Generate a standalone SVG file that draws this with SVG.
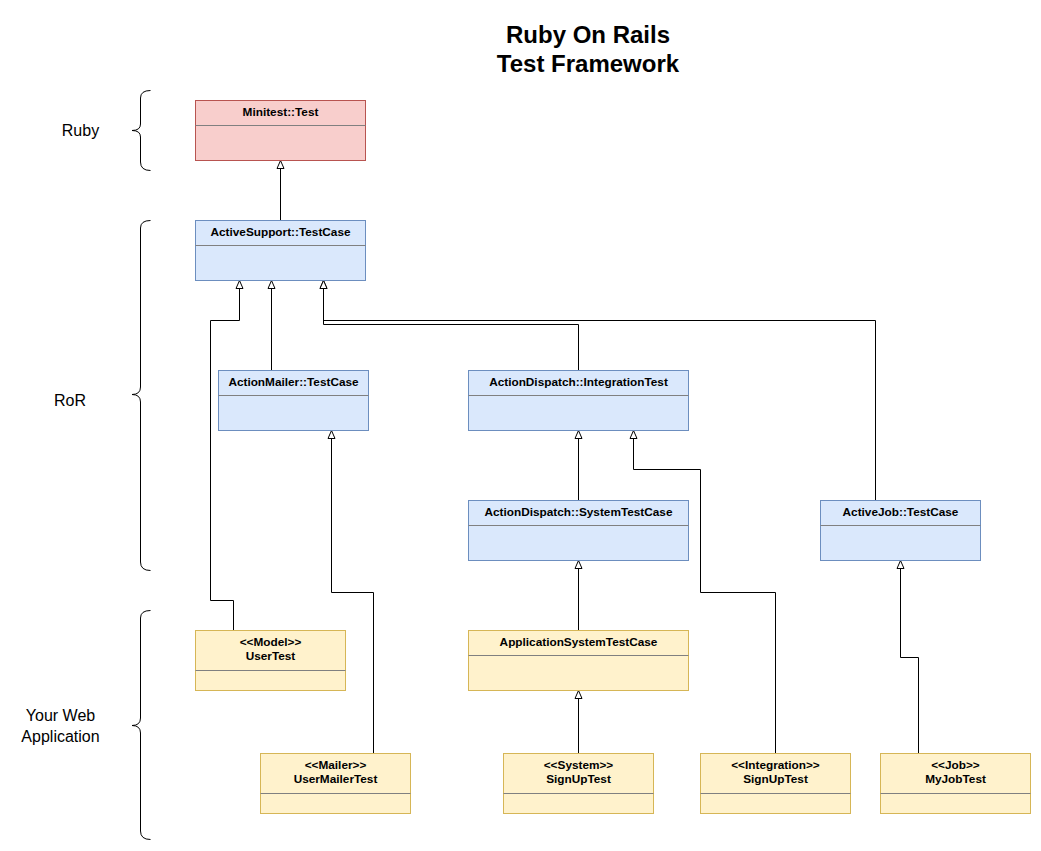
<svg xmlns="http://www.w3.org/2000/svg" width="1041" height="851" viewBox="0 0 1041 851">
<style>
text{font-family:"Liberation Sans",Arial,Helvetica,sans-serif;fill:#000}
.t{font-size:24px;font-weight:bold;text-anchor:middle}
.lbl{font-size:16px;text-anchor:middle}
.n{font-size:11.8px;font-weight:bold;text-anchor:middle}
.pink{fill:#f8cecc;stroke:#b85450;stroke-width:1}
.blue{fill:#dae8fc;stroke:#6c8ebf;stroke-width:1}
.yel{fill:#fff2cc;stroke:#d6b656;stroke-width:1}
.div{stroke:#808080;stroke-width:1;fill:none}
.c{fill:none;stroke:#000;stroke-width:1;marker-end:url(#tri)}
.br{fill:none;stroke:#000;stroke-width:1}
</style>
<defs>
<marker id="tri" markerUnits="userSpaceOnUse" markerWidth="12" markerHeight="12" refX="10" refY="6" orient="auto">
<path d="M2,2.5 L10,6 L2,9.5 Z" fill="#fff" stroke="#000" stroke-width="1"/>
</marker>
</defs>
<rect width="1041" height="851" fill="#fff"/>
<g id="title">
<text class="t" x="588" y="43">Ruby On Rails</text>
<text class="t" x="588" y="72">Test Framework</text>
</g>
<g id="layer-ruby">
<path class="br" d="M150.5,90.5 Q140.5,90.5 140.5,98 L140.5,124 Q140.5,130.5 132,130.5 Q140.5,130.5 140.5,137 L140.5,162 Q140.5,170.5 150.5,170.5"/>
<text class="lbl" x="80.5" y="136">Ruby</text>
</g>
<g id="layer-ror">
<path class="br" d="M150.5,220.5 Q140.5,220.5 140.5,228 L140.5,387 Q140.5,394.5 132,394.5 Q140.5,394.5 140.5,402 L140.5,562 Q140.5,570.5 150.5,570.5"/>
<text class="lbl" x="70" y="406">RoR</text>
</g>
<g id="layer-app">
<path class="br" d="M150.5,610.5 Q140.5,610.5 140.5,618 L140.5,718 Q140.5,725.5 132,725.5 Q140.5,725.5 140.5,733 L140.5,831 Q140.5,839.5 150.5,839.5"/>
<text class="lbl" x="60.5" y="721">Your Web</text>
<text class="lbl" x="60.5" y="742">Application</text>
</g>
<g id="connectors">
<path class="c" d="M280.5,220.5 L280.5,160.5"/>
<path class="c" d="M233.5,630.5 L233.5,600.5 L210.5,600.5 L210.5,320.5 L239.5,320.5 L239.5,280.5"/>
<path class="c" d="M271.5,370.5 L271.5,280.5"/>
<path class="c" d="M578.5,370.5 L578.5,324.5 L323.5,324.5 L323.5,280.5"/>
<path class="c" d="M875.5,500.5 L875.5,320.5 L323.5,320.5 L323.5,280.5"/>
<path class="c" d="M373.5,753.5 L373.5,592.5 L331.5,592.5 L331.5,430.5"/>
<path class="c" d="M578.5,500.5 L578.5,430.5"/>
<path class="c" d="M775.5,753.5 L775.5,592.5 L700.5,592.5 L700.5,469.5 L633.5,469.5 L633.5,430.5"/>
<path class="c" d="M578.5,630.5 L578.5,560.5"/>
<path class="c" d="M578.5,753.5 L578.5,690.5"/>
<path class="c" d="M918.5,753.5 L918.5,657.5 L900.5,657.5 L900.5,560.5"/>
</g>
<g id="minitest-test">
<rect class="pink" x="195.5" y="100.5" width="170" height="60"/>
<path class="div" d="M195.5,125.5 H365.5"/>
<text class="n" x="280.5" y="116">Minitest::Test</text>
</g>
<g id="activesupport-testcase">
<rect class="blue" x="195.5" y="220.5" width="170" height="60"/>
<path class="div" d="M195.5,245.5 H365.5"/>
<text class="n" x="280.5" y="236">ActiveSupport::TestCase</text>
</g>
<g id="actionmailer-testcase">
<rect class="blue" x="218.5" y="370.5" width="150" height="60"/>
<path class="div" d="M218.5,395.5 H368.5"/>
<text class="n" x="293.5" y="386">ActionMailer::TestCase</text>
</g>
<g id="actiondispatch-integrationtest">
<rect class="blue" x="468.5" y="370.5" width="220" height="60"/>
<path class="div" d="M468.5,395.5 H688.5"/>
<text class="n" x="578.5" y="386">ActionDispatch::IntegrationTest</text>
</g>
<g id="actiondispatch-systemtestcase">
<rect class="blue" x="468.5" y="500.5" width="220" height="60"/>
<path class="div" d="M468.5,525.5 H688.5"/>
<text class="n" x="578.5" y="516">ActionDispatch::SystemTestCase</text>
</g>
<g id="activejob-testcase">
<rect class="blue" x="820.5" y="500.5" width="160" height="60"/>
<path class="div" d="M820.5,525.5 H980.5"/>
<text class="n" x="900.5" y="516">ActiveJob::TestCase</text>
</g>
<g id="usertest">
<rect class="yel" x="195.5" y="630.5" width="150" height="60"/>
<path class="div" d="M195.5,670.5 H345.5"/>
<text class="n" x="270.5" y="646">&lt;&lt;Model&gt;&gt;</text>
<text class="n" x="270.5" y="660">UserTest</text>
</g>
<g id="applicationsystemtestcase">
<rect class="yel" x="468.5" y="630.5" width="220" height="60"/>
<path class="div" d="M468.5,655.5 H688.5"/>
<text class="n" x="578.5" y="646">ApplicationSystemTestCase</text>
</g>
<g id="usermailertest">
<rect class="yel" x="260.5" y="753.5" width="150" height="60"/>
<path class="div" d="M260.5,793.5 H410.5"/>
<text class="n" x="335.5" y="769">&lt;&lt;Mailer&gt;&gt;</text>
<text class="n" x="335.5" y="783">UserMailerTest</text>
</g>
<g id="system-signuptest">
<rect class="yel" x="503.5" y="753.5" width="150" height="60"/>
<path class="div" d="M503.5,793.5 H653.5"/>
<text class="n" x="578.5" y="769">&lt;&lt;System&gt;&gt;</text>
<text class="n" x="578.5" y="783">SignUpTest</text>
</g>
<g id="integration-signuptest">
<rect class="yel" x="700.5" y="753.5" width="150" height="60"/>
<path class="div" d="M700.5,793.5 H850.5"/>
<text class="n" x="775.5" y="769">&lt;&lt;Integration&gt;&gt;</text>
<text class="n" x="775.5" y="783">SignUpTest</text>
</g>
<g id="myjobtest">
<rect class="yel" x="880.5" y="753.5" width="150" height="60"/>
<path class="div" d="M880.5,793.5 H1030.5"/>
<text class="n" x="955.5" y="769">&lt;&lt;Job&gt;&gt;</text>
<text class="n" x="955.5" y="783">MyJobTest</text>
</g>
</svg>
